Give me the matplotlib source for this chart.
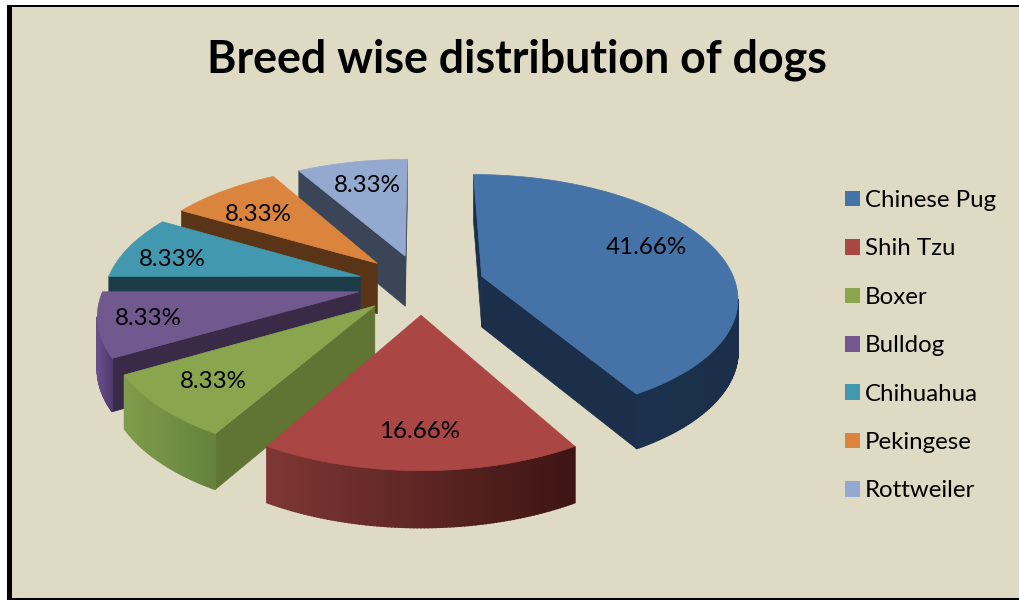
"""
Breed wise distribution of dogs: exploded pie with a perspective 3D look.
Everything is drawn on one axes whose units are figure pixels.
"""

import matplotlib
matplotlib.use("Agg")
import matplotlib.pyplot as plt
import matplotlib.patches as mpatches
import numpy as np

matplotlib.rcParams.update({
    "font.family": ["Lato", "DejaVu Sans"],
    "figure.dpi":  100,
})

breeds = ["Chinese Pug", "Shih Tzu", "Boxer", "Bulldog",
          "Chihuahua", "Pekingese", "Rottweiler"]
shares = [41.66, 16.66, 8.33, 8.33, 8.33, 8.33, 8.33]
share_labels = ["41.66%", "16.66%", "8.33%", "8.33%", "8.33%", "8.33%", "8.33%"]

TOP_COLORS  = ["#4573A7", "#AA4644", "#89A54E", "#71588F",
               "#4298AF", "#DB843D", "#93A9CF"]
CUT_COLORS  = ["#1B2F4A", "#4A1B1A", "#607434", "#392A47",
               "#1B3C48", "#5A3416", "#3A4558"]
WALL_LEFT   = ["#1B3350", "#7E3734", "#7F9C4B", "#6A4E8A",
               "#2B6A7C", "#8A5220", "#5C6C88"]
WALL_RIGHT  = ["#1B2F4A", "#3E1514", "#66833E", "#503A6E",
               "#1B3C48", "#5A3416", "#3A4558"]
LABEL_RADIUS = [0.71, 0.77, 0.75, 0.82, 0.78, 0.73, 0.75]
LABEL_DX = [-1, -1, -6, 2, -6, -4, 3]
LABEL_DY = [-8, 2, 2, 0, 6, 6, 2]

# projection settings, pixels
CX, CY   = 421, 284
RX, RY   = 254, 120
PERSP    = 0.157
EXPLODE  = 0.25
DEPTH    = 51
START    = 0.0


def project(u, v, drop=0.0):
    w = 1 + PERSP * np.asarray(v)
    return CX + RX * np.asarray(u) / w, CY - RY * np.asarray(v) / w + drop / np.sqrt(w)


def blend(c0, c1, t):
    a, b = np.array(matplotlib.colors.to_rgb(c0)), np.array(matplotlib.colors.to_rgb(c1))
    return tuple(a + (b - a) * t)


def face(ax, xs, ys, color, lw=0.5):
    ax.add_patch(mpatches.Polygon(np.column_stack([xs, ys]), closed=True,
                                  facecolor=color, edgecolor=color, lw=lw))


def draw_wedge(ax, i, t0, t1):
    mid = np.radians((t0 + t1) / 2)
    ou, ov = EXPLODE * np.sin(mid), EXPLODE * np.cos(mid)
    t = np.radians(np.linspace(t0, t1, int((t1 - t0) * 1.5) + 2))
    u, v = ou + np.sin(t), ov + np.cos(t)
    x, y = project(u, v)
    xd, yd = project(u, v, DEPTH)
    ax_, ay_ = project(ou, ov)
    axd, ayd = project(ou, ov, DEPTH)

    # cut faces only show when their top edge runs leftwards on screen
    if x[0] < ax_:
        face(ax, [ax_, x[0], xd[0], axd], [ay_, y[0], yd[0], ayd], CUT_COLORS[i])
    if ax_ < x[-1]:
        face(ax, [x[-1], ax_, axd, xd[-1]], [y[-1], ay_, ayd, yd[-1]], CUT_COLORS[i])

    # outer wall, shaded in strips from left to right
    xspan = max(x.max() - x.min(), 1)
    for k in range(len(t) - 1):
        if x[k + 1] < x[k]:
            c = blend(WALL_LEFT[i], WALL_RIGHT[i], (x[k] - x.min()) / xspan)
            face(ax, [x[k], x[k + 1], xd[k + 1], xd[k]],
                 [y[k], y[k + 1], yd[k + 1], yd[k]], c, lw=1.2)

    face(ax, np.r_[ax_, x], np.r_[ay_, y], TOP_COLORS[i])


fig = plt.figure(figsize=(10.2, 6.0), facecolor="white")
ax = fig.add_axes([0, 0, 1, 1])
ax.set_xlim(0, 1020)
ax.set_ylim(600, 0)
ax.axis("off")

# chart frame: black on the top, left and bottom, open to the right
ax.add_patch(mpatches.Rectangle((7, 5), 1020, 595, facecolor="black", edgecolor="none"))
ax.add_patch(mpatches.Rectangle((12, 7), 1020, 591, facecolor="#DEDAC3", edgecolor="none"))

fractions = np.array(shares) / np.sum(shares)
edges = START + np.r_[0, np.cumsum(fractions)] * 360
mids = (edges[:-1] + edges[1:]) / 2

# paint back to front
for i in np.argsort(np.cos(np.radians(mids)))[::-1]:
    draw_wedge(ax, i, edges[i], edges[i + 1])

for i, lab in enumerate(share_labels):
    m = np.radians(mids[i])
    r = EXPLODE + LABEL_RADIUS[i]
    lx, ly = project(r * np.sin(m), r * np.cos(m))
    ax.text(lx + LABEL_DX[i], ly + LABEL_DY[i], lab, fontsize=17.4, color="black",
            ha="center", va="center")

ax.text(517, 60, "Breed wise distribution of dogs", fontsize=32.2,
        fontweight="bold", color="black", ha="center", va="center")

handles = [mpatches.Patch(facecolor=c, edgecolor="none", label=b)
           for c, b in zip(TOP_COLORS, breeds)]
ax.legend(handles=handles, loc="upper left", bbox_to_anchor=(845 / 1020, 1 - 190 / 600),
          frameon=False, fontsize=17.3, handlelength=0.62, handleheight=0.62,
          handletextpad=0.22, labelspacing=1.14, borderaxespad=0, borderpad=0)

fig.savefig("out.png", dpi=100)
